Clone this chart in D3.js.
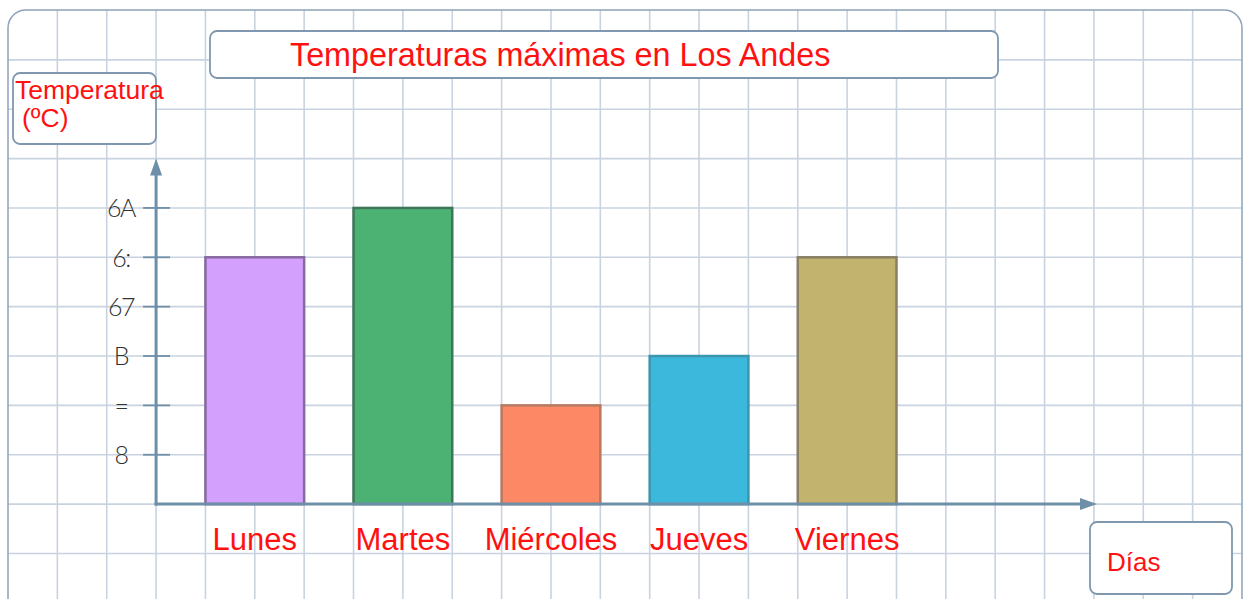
<!DOCTYPE html>
<html>
<head>
<meta charset="utf-8">
<script src="https://cdn.jsdelivr.net/npm/d3@7"></script>
<style>
  body { margin: 0; background: #fff; }
  text { font-family: "Liberation Sans", Arial, sans-serif; }
</style>
</head>
<body>
<div id="chart"></div>
<script>
// datos
const dias = ['Lunes', 'Martes', 'Miércoles', 'Jueves', 'Viernes']
const temperaturas = [5, 6, 2, 3, 5]
const tickValues = [1, 2, 3, 4, 5, 6]
const tickLabels = ['8', '=', 'B', '67', '6:', '6A']
const rellenos = ['#d3a0fd', '#4bb274', '#fd8865', '#3bb8dc', '#c2b46e']
const bordes = ['#86699e', '#3f7558', '#b87a62', '#3a97ad', '#8a7f62']

const width = 1243, height = 599
const cell = (1242 - 8) / 25

const svg = d3.select('#chart')
    .append('svg')
    .attr('width', width)
    .attr('height', height)

// cuadricula
const gx = d3.scaleLinear().domain([0, 25]).range([8, 8 + 25 * cell])
const gy = d3.scaleLinear().domain([0, 12]).range([10.5, 10.5 + 12 * cell])

svg.append('defs').append('clipPath').attr('id', 'marco')
    .append('rect')
    .attr('x', 8).attr('y', 10)
    .attr('width', 1234).attr('height', 620)
    .attr('rx', 18)

const grid = svg.append('g').attr('clip-path', 'url(#marco)')
grid.selectAll('line.v')
    .data(d3.range(1, 25))
    .enter().append('line')
    .attr('x1', d => gx(d)).attr('x2', d => gx(d))
    .attr('y1', 10).attr('y2', height)
    .attr('stroke', '#c9d3df').attr('stroke-width', 1.6)
grid.selectAll('line.h')
    .data(d3.range(1, 12))
    .enter().append('line')
    .attr('y1', d => gy(d)).attr('y2', d => gy(d))
    .attr('x1', 8).attr('x2', 1242)
    .attr('stroke', '#c9d3df').attr('stroke-width', 1.6)

svg.append('rect')
    .attr('x', 8).attr('y', 10)
    .attr('width', 1234).attr('height', 620)
    .attr('rx', 18)
    .attr('fill', 'none')
    .attr('stroke', '#8ea2b8').attr('stroke-width', 1.5)

// escalas
const x = d3.scaleBand()
    .domain(dias)
    .range([gx(4), gx(18)])
    .paddingInner(1 / 3)
    .paddingOuter(0)

const y = d3.scaleLinear()
    .domain([0, 7])
    .range([gy(10), gy(3)])

const ejeColor = '#6e8fa8'
const x0 = gx(3)

// barras
svg.append('g')
    .selectAll('rect')
    .data(temperaturas)
    .enter()
    .append('rect')
    .attr('x', (d, i) => x(dias[i]))
    .attr('y', d => y(d))
    .attr('width', x.bandwidth())
    .attr('height', d => y(0) - y(d))
    .attr('fill', (d, i) => rellenos[i])
    .attr('stroke', (d, i) => bordes[i])
    .attr('stroke-width', 2.5)

// eje y
svg.append('g')
    .selectAll('line')
    .data(tickValues)
    .enter().append('line')
    .attr('x1', x0 - 13).attr('x2', x0 + 14)
    .attr('y1', d => y(d)).attr('y2', d => y(d))
    .attr('stroke', ejeColor).attr('stroke-width', 1.8)

svg.append('g')
    .selectAll('text')
    .data(tickValues)
    .enter().append('text')
    .attr('x', 121)
    .attr('y', d => y(d))
    .attr('dy', '0.37em')
    .attr('text-anchor', 'middle')
    .style('font-family', 'Lato, "Open Sans", "DejaVu Sans", sans-serif')
    .style('font-weight', 300)
    .style('font-size', '25px')
    .style('letter-spacing', '-1.5px')
    .attr('fill', '#333')
    .text((d, i) => tickLabels[i])

svg.append('line')
    .attr('x1', x0).attr('x2', x0)
    .attr('y1', y(0) + 1.5).attr('y2', gy(3) + 14)
    .attr('stroke', ejeColor).attr('stroke-width', 3)
svg.append('path')
    .attr('d', `M${x0},${gy(3)} L${x0 - 6},${gy(3) + 17} L${x0 + 6},${gy(3) + 17} Z`)
    .attr('fill', ejeColor)

// eje x
const xEnd = 1097
svg.append('line')
    .attr('x1', x0 - 1.5).attr('x2', xEnd - 14)
    .attr('y1', y(0)).attr('y2', y(0))
    .attr('stroke', ejeColor).attr('stroke-width', 3)
svg.append('path')
    .attr('d', `M${xEnd},${y(0)} L${xEnd - 17},${y(0) - 6} L${xEnd - 17},${y(0) + 6} Z`)
    .attr('fill', ejeColor)

svg.append('g')
    .selectAll('text')
    .data(dias)
    .enter().append('text')
    .attr('x', d => x(d) + x.bandwidth() / 2)
    .attr('y', 550)
    .attr('text-anchor', 'middle')
    .style('font-size', '31px')
    .attr('fill', '#ff1111')
    .text(d => d)

// cajas de texto
function caja(x1, y1, x2, y2) {
    svg.append('rect')
        .attr('x', x1).attr('y', y1)
        .attr('width', x2 - x1).attr('height', y2 - y1)
        .attr('rx', 7)
        .attr('fill', '#fff')
        .attr('stroke', '#7f98af').attr('stroke-width', 1.8)
}

caja(210, 31, 998, 78)
svg.append('text')
    .attr('x', 290).attr('y', 66)
    .style('font-size', '32.3px')
    .attr('fill', '#ff1111')
    .text('Temperaturas máximas en Los Andes')

caja(13, 73, 156, 144)
svg.append('text')
    .attr('x', 15).attr('y', 99)
    .style('font-size', '26.5px')
    .attr('fill', '#ff1111')
    .text('Temperatura')
svg.append('text')
    .attr('x', 22).attr('y', 127)
    .style('font-size', '26.5px')
    .attr('fill', '#ff1111')
    .text('(ºC)')

caja(1090, 522, 1232, 594)
svg.append('text')
    .attr('x', 1107).attr('y', 571)
    .style('font-size', '26px')
    .attr('fill', '#ff1111')
    .text('Días')
</script>
</body>
</html>
